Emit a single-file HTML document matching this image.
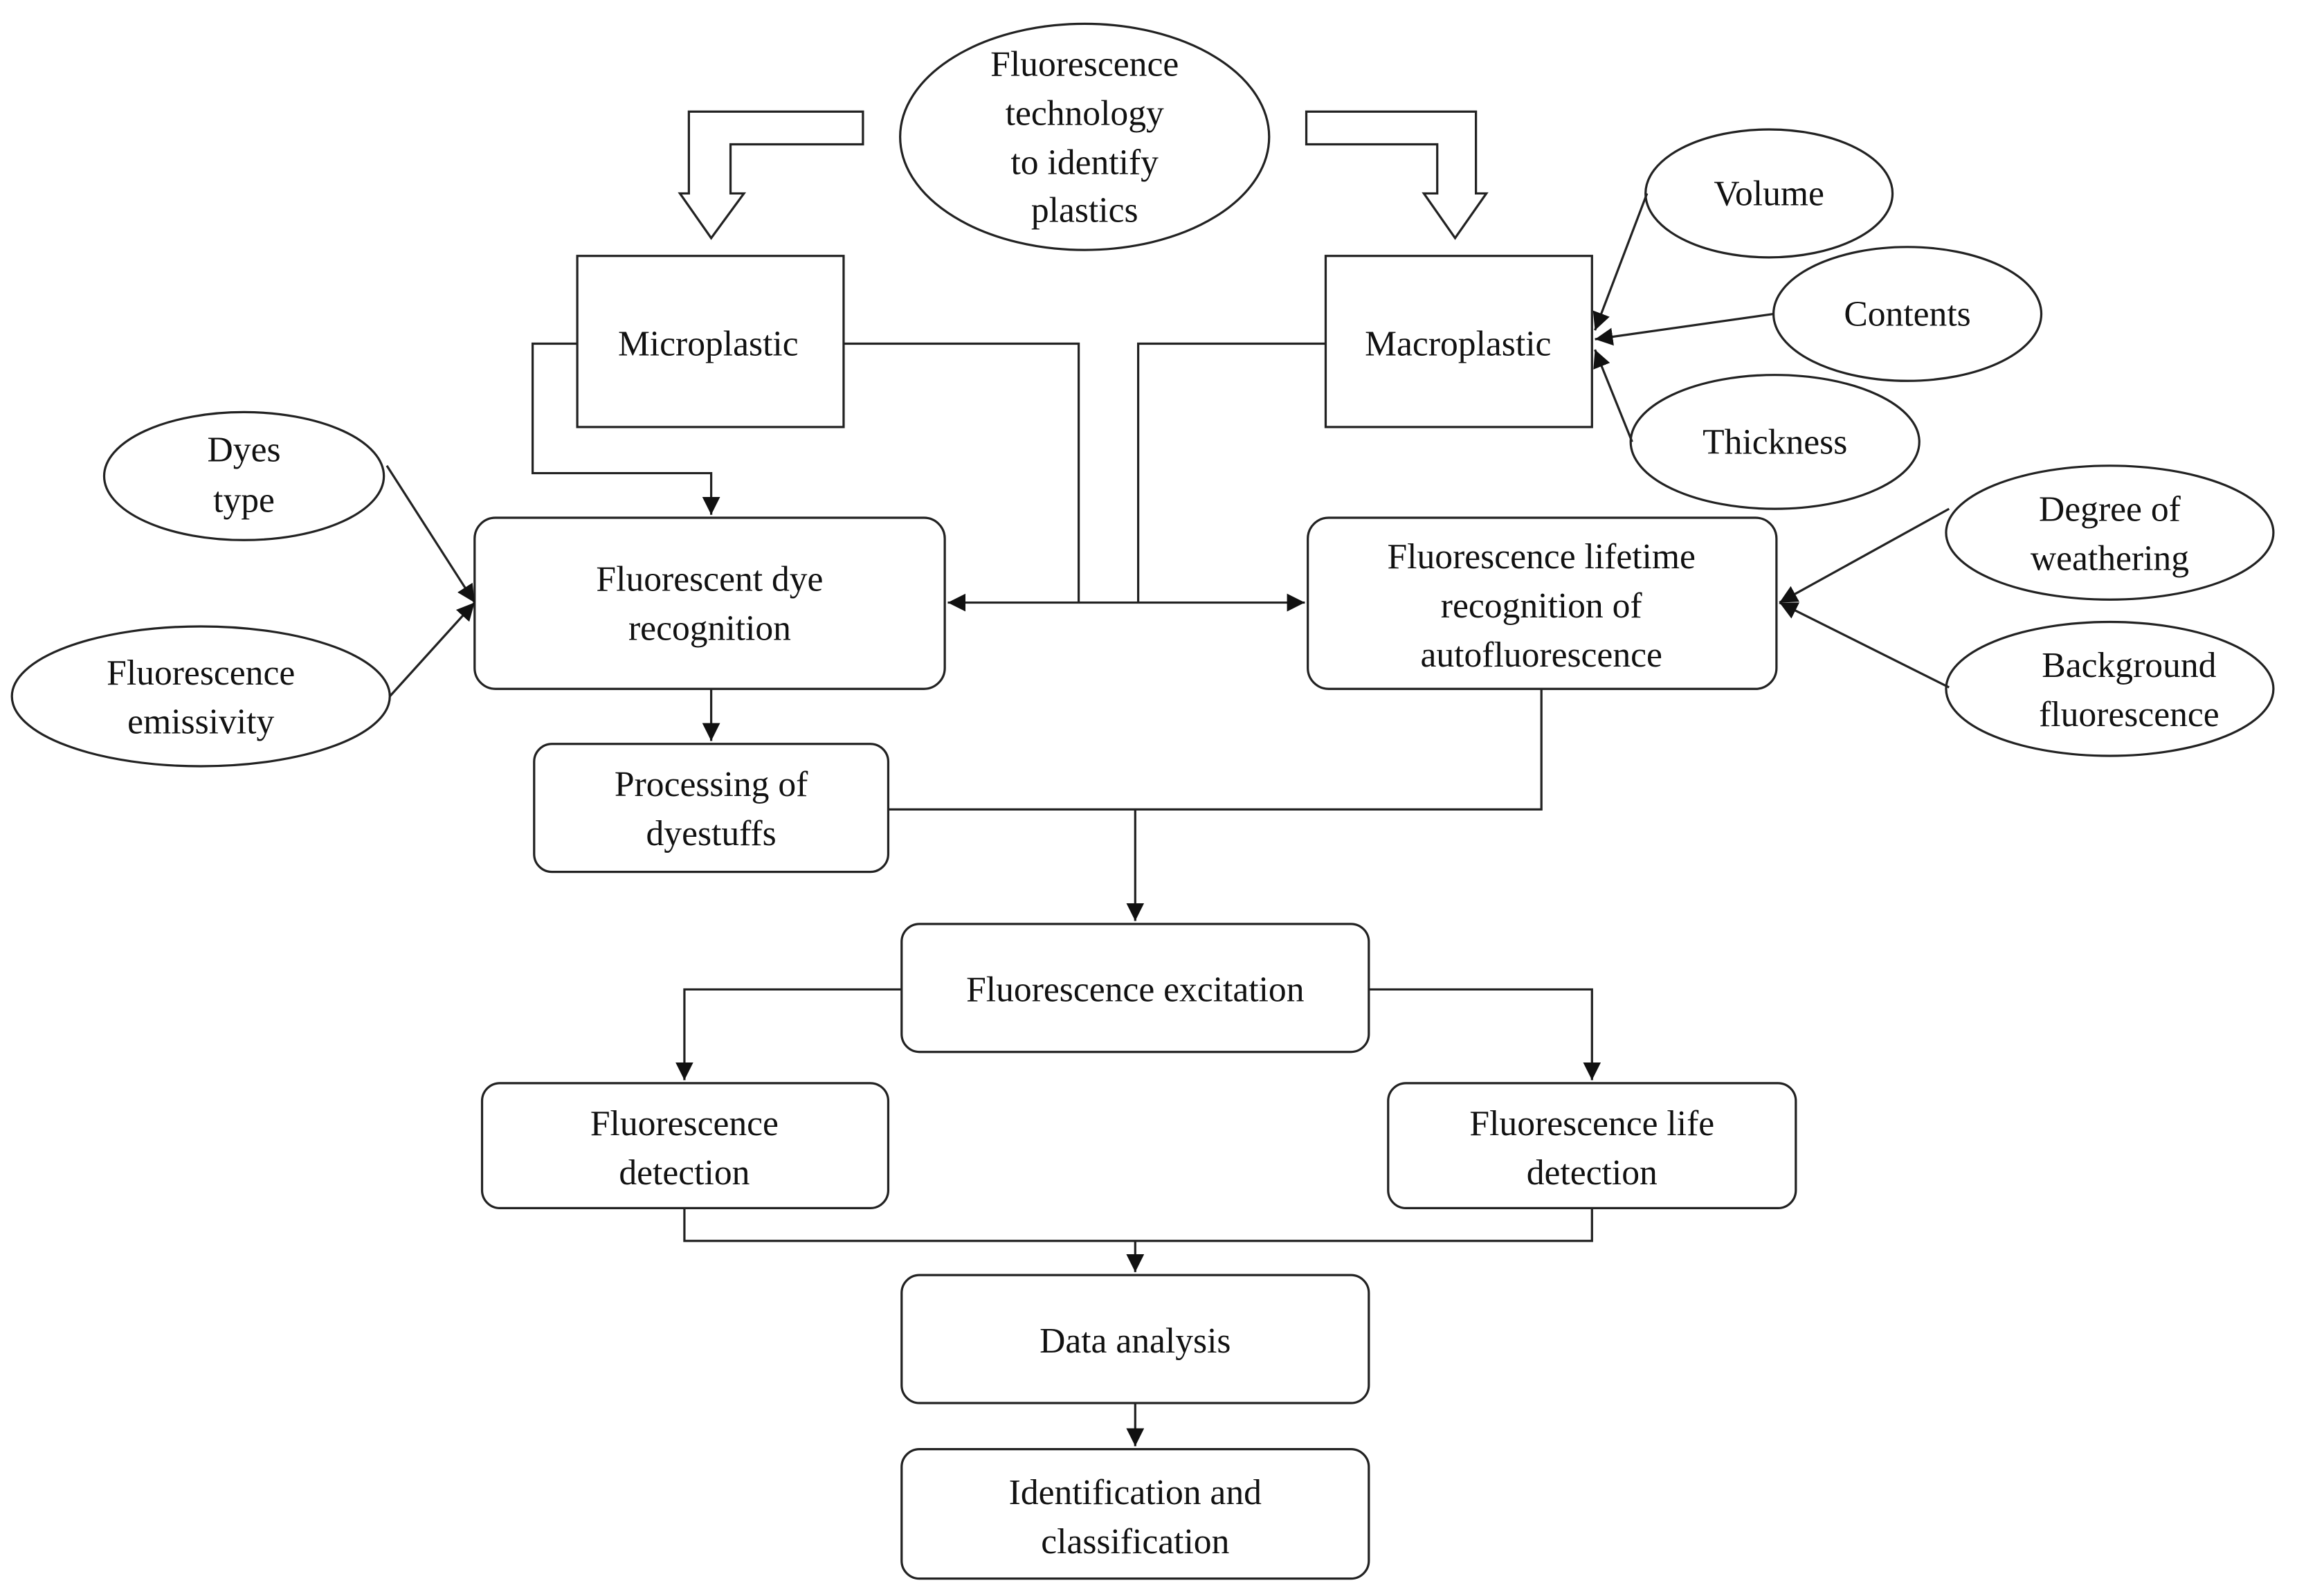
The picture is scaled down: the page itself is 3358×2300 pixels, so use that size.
<!DOCTYPE html>
<html><head><meta charset="utf-8"><style>html,body{margin:0;padding:0;background:#fff}svg{display:block}</style></head>
<body>
<svg width="3358" height="2300" viewBox="0 0 1562 1070" preserveAspectRatio="none" xmlns="http://www.w3.org/2000/svg" font-family="'Liberation Serif', serif" font-size="24" fill="none" stroke="#222" stroke-width="1.5">
<defs><marker id="a" viewBox="0 0 10 10" refX="10" refY="5" markerWidth="8" markerHeight="8" orient="auto-start-reverse"><path d="M0,0 L10,5 L0,10 z" fill="#111" stroke="none"/></marker></defs>
<ellipse cx="729" cy="92" rx="124" ry="76"/>
<path d="M580,75 L463,75 L463,130 L457,130 L478,160 L500,130 L491,130 L491,97 L580,97 Z"/>
<path d="M878,75 L992,75 L992,130 L999,130 L978,160 L957,130 L966,130 L966,97 L878,97 Z"/>
<rect x="388" y="172" width="179" height="115"/>
<rect x="891" y="172" width="179" height="115"/>
<ellipse cx="1189" cy="130" rx="83" ry="43"/>
<ellipse cx="1282" cy="211" rx="90" ry="45"/>
<ellipse cx="1193" cy="297" rx="97" ry="45"/>
<line x1="1107" y1="130" x2="1072" y2="222" marker-end="url(#a)"/>
<line x1="1192" y1="211" x2="1072" y2="228" marker-end="url(#a)"/>
<line x1="1097" y1="297" x2="1072" y2="235" marker-end="url(#a)"/>
<ellipse cx="164" cy="320" rx="94" ry="43"/>
<ellipse cx="135" cy="468" rx="127" ry="47"/>
<rect x="319" y="348" width="316" height="115" rx="14"/>
<line x1="260" y1="313" x2="319" y2="405" marker-end="url(#a)"/>
<line x1="262" y1="468" x2="319" y2="405" marker-end="url(#a)"/>
<polyline points="388,231 358,231 358,318 478,318 478,346" marker-end="url(#a)"/>
<polyline points="567,231 725,231 725,405"/>
<polyline points="891,231 765,231 765,405"/>
<line x1="637" y1="405" x2="877" y2="405" marker-start="url(#a)" marker-end="url(#a)"/>
<rect x="879" y="348" width="315" height="115" rx="14"/>
<ellipse cx="1418" cy="358" rx="110" ry="45"/>
<ellipse cx="1418" cy="463" rx="110" ry="45"/>
<line x1="1310" y1="342" x2="1196" y2="405" marker-end="url(#a)"/>
<line x1="1310" y1="462" x2="1196" y2="405" marker-end="url(#a)"/>
<line x1="478" y1="463" x2="478" y2="498" marker-end="url(#a)"/>
<rect x="359" y="500" width="238" height="86" rx="12"/>
<polyline points="597,544 1036,544 1036,463"/>
<line x1="763" y1="544" x2="763" y2="619" marker-end="url(#a)"/>
<rect x="606" y="621" width="314" height="86" rx="12"/>
<polyline points="606,665 460,665 460,726" marker-end="url(#a)"/>
<polyline points="920,665 1070,665 1070,726" marker-end="url(#a)"/>
<rect x="324" y="728" width="273" height="84" rx="12"/>
<rect x="933" y="728" width="274" height="84" rx="12"/>
<polyline points="460,812 460,834 1070,834 1070,812"/>
<line x1="763" y1="834" x2="763" y2="855" marker-end="url(#a)"/>
<rect x="606" y="857" width="314" height="86" rx="12"/>
<line x1="763" y1="943" x2="763" y2="972" marker-end="url(#a)"/>
<rect x="606" y="974" width="314" height="87" rx="12"/>
<g fill="#111" stroke="none" text-anchor="middle">
<text x="729" y="51">Fluorescence</text><text x="729" y="84">technology</text><text x="729" y="117">to identify</text><text x="729" y="149">plastics</text>
<text x="476" y="239">Microplastic</text><text x="980" y="239">Macroplastic</text>
<text x="1189" y="138">Volume</text><text x="1282" y="219">Contents</text><text x="1193" y="305">Thickness</text>
<text x="164" y="310">Dyes</text><text x="164" y="344">type</text>
<text x="135" y="460">Fluorescence</text><text x="135" y="493">emissivity</text>
<text x="477" y="397">Fluorescent dye</text><text x="477" y="430">recognition</text>
<text x="1036" y="382">Fluorescence lifetime</text><text x="1036" y="415">recognition of</text><text x="1036" y="448">autofluorescence</text>
<text x="1418" y="350">Degree of</text><text x="1418" y="383">weathering</text>
<text x="1431" y="455">Background</text><text x="1431" y="488">fluorescence</text>
<text x="478" y="535">Processing of</text><text x="478" y="568">dyestuffs</text>
<text x="763" y="673">Fluorescence excitation</text>
<text x="460" y="763">Fluorescence</text><text x="460" y="796">detection</text>
<text x="1070" y="763">Fluorescence life</text><text x="1070" y="796">detection</text>
<text x="763" y="909">Data analysis</text>
<text x="763" y="1011">Identification and</text><text x="763" y="1044">classification</text>
</g>
</svg>
</body></html>
